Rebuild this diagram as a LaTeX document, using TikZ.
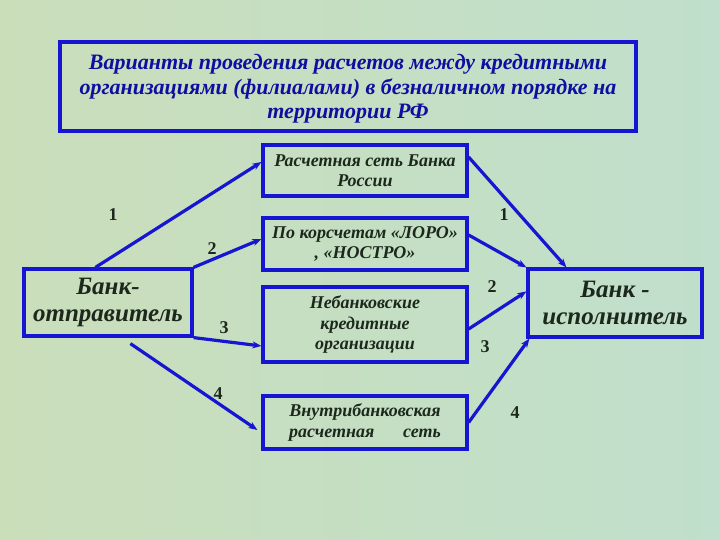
\documentclass[tikz,border=0pt]{standalone}
\usepackage{fontspec}
\setmainfont{Liberation Serif}
\usetikzlibrary{arrows.meta}
\definecolor{bgA}{RGB}{202,222,186}
\definecolor{bgB}{RGB}{192,223,204}
\definecolor{frame}{RGB}{22,22,210}
\definecolor{titletext}{RGB}{14,14,160}
\definecolor{boxtext}{RGB}{28,40,28}
\tikzset{
  box/.style={draw=frame, line width=3.2pt, rectangle, align=center, inner sep=1pt,
    text=boxtext, font=\bfseries\itshape\fontsize{18}{20.5}\selectfont},
  bigbox/.style={box, font=\bfseries\itshape\fontsize{25}{26.5}\selectfont},
  titlebox/.style={box, text=titletext, font=\bfseries\itshape\fontsize{22}{24.5}\selectfont},
  conn/.style={draw=frame, line width=3.2pt, -{Stealth[length=9pt,width=7pt]}},
  num/.style={text=boxtext, font=\bfseries\fontsize{18}{18}\selectfont}
}
\begin{document}
\begin{tikzpicture}[x=1pt,y=-1pt]
\shade[left color=bgA, right color=bgB] (0,0) rectangle (720,540);
\useasboundingbox (0,0) rectangle (720,540);

\node[titlebox, minimum width=576pt, minimum height=89pt] (title) at (348,86.5)
  {\rule{0pt}{20pt}Варианты проведения расчетов между кредитными\\организациями (филиалами) в безналичном порядке на\\территории РФ};

\node[box, minimum width=204pt, minimum height=51pt] (rbr) at (365,170.5) {Расчетная сеть Банка\\России};
\node[box, minimum width=204pt, minimum height=52pt] (loro) at (365,244) {По корсчетам «ЛОРО»\\, «НОСТРО»};
\node[box, minimum width=204pt, minimum height=75pt] (nonbank) at (365,324.5) {Небанковские\\кредитные\\организации};
\node[box, minimum width=204pt, minimum height=53pt] (intra) at (365,422.5) {Внутрибанковская\\расчетная\hspace{1.6em}сеть};

\node[bigbox, minimum width=168pt, minimum height=67pt] (sender) at (108,302.5) {Банк-\\отправитель};
\node[bigbox, minimum width=174pt, minimum height=68pt] (exec) at (615,303) {Банк -\\исполнитель};

\draw[conn] ([xshift=73pt]sender.north west) -- ([yshift=8.5pt]rbr.west);
\draw[conn] (sender.north east) -- ([yshift=5pt]loro.west);
\draw[conn] (sender.south east) -- ([yshift=-21.5pt]nonbank.west);
\draw[conn] ([xshift=108pt,yshift=-6pt]sender.south west) -- ([xshift=-4pt,yshift=-7.5pt]intra.west);

\draw[conn] ([yshift=13.5pt]rbr.east) -- ([xshift=40pt]exec.north west);
\draw[conn] ([yshift=9pt]loro.east) -- (exec.north west);
\draw[conn] ([yshift=-4.5pt]nonbank.east) -- ([yshift=-24pt]exec.north west);
\draw[conn] (intra.east) -- ([xshift=3pt]exec.south west);

\node[num] (l1) at (113,215) {1};
\node[num] (l2) at (212,249) {2};
\node[num] (l3) at (224,328) {3};
\node[num] (l4) at (218,394) {4};
\node[num] (r1) at (504,215) {1};
\node[num] (r2) at (492,287) {2};
\node[num] (r3) at (485,347) {3};
\node[num] (r4) at (515,413) {4};
\end{tikzpicture}
\end{document}
